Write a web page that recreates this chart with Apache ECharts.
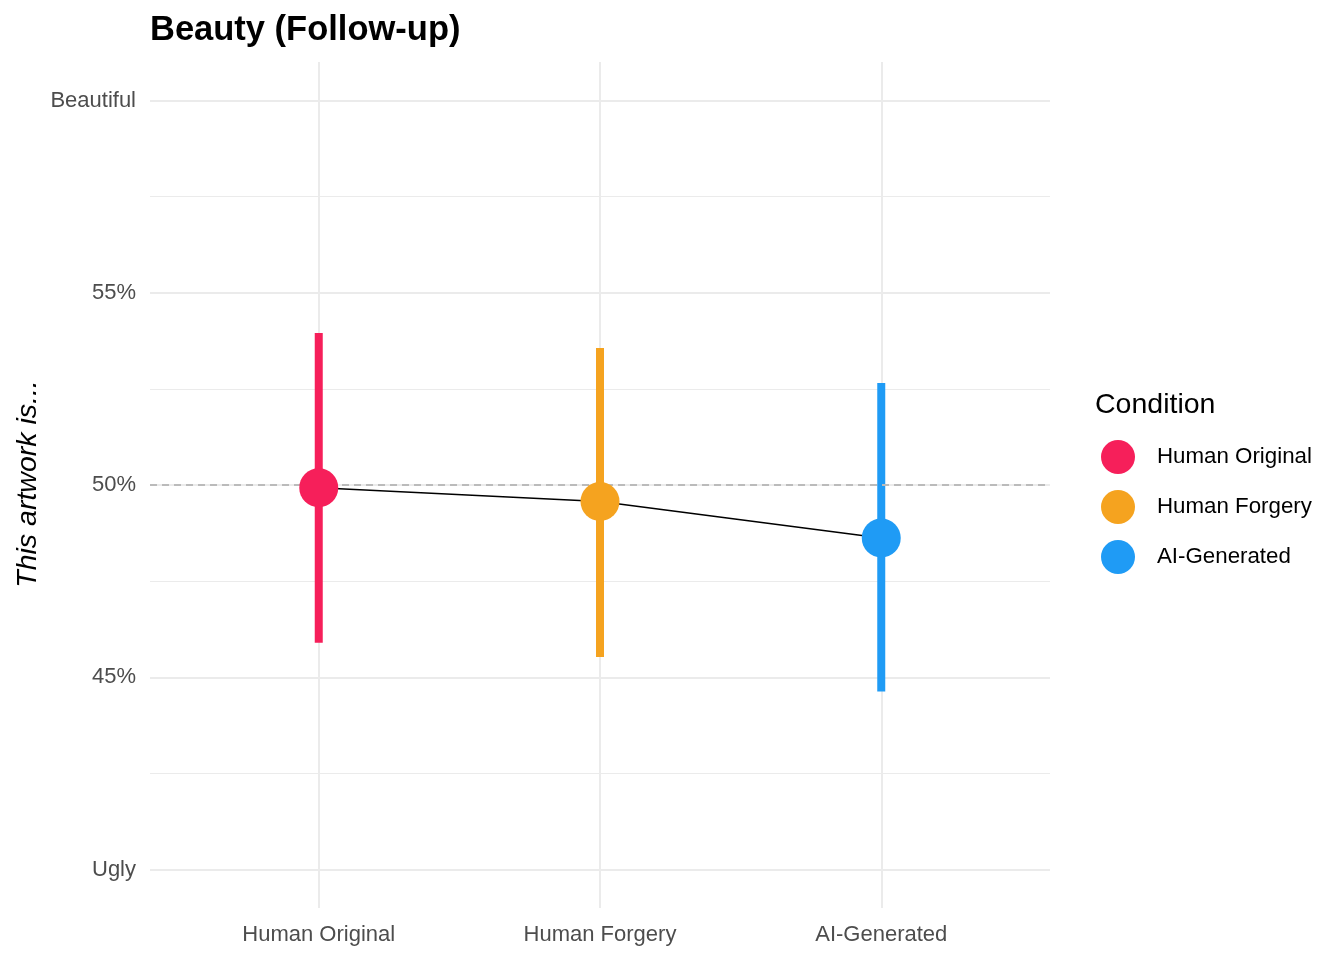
<!DOCTYPE html>
<html>
<head>
<meta charset="utf-8">
<script src="https://cdn.jsdelivr.net/npm/echarts@6/dist/echarts.min.js"></script>
<style>
  html, body { margin: 0; padding: 0; background: #fff; }
  #chart { width: 1344px; height: 960px; }
</style>
</head>
<body>
<div id="chart"></div>
<script>
// data
const conditions = ['Human Original', 'Human Forgery', 'AI-Generated']
const means = [49.93, 49.57, 48.62]
const lower = [45.9, 45.53, 44.63]
const upper = [53.95, 53.56, 52.65]
const colors = ['#F61F5A', '#F5A31F', '#1F9BF5']
const yTicks = [40, 45, 50, 55, 60]
const yMinorTicks = [42.5, 47.5, 52.5, 57.5]
const yTickLabels = { 40: 'Ugly', 60: 'Beautiful' }

const font = "'Liberation Sans', Arial, sans-serif"
const gridColor = '#EBEBEB'
const xPos = conditions.map((c, i) => i + 1)

const chart = echarts.init(document.getElementById('chart'))

chart.setOption({
  animation: false,
  backgroundColor: '#fff',
  textStyle: { fontFamily: font },
  title: {
    text: 'Beauty (Follow-up)',
    left: 145, top: 8,
    textStyle: { fontSize: 34.5, fontWeight: 'bold', color: '#000', fontFamily: font }
  },
  grid: { left: 150, right: 294, top: 62, bottom: 52 },
  xAxis: {
    type: 'value', min: 0.4, max: 3.6,
    axisLine: { show: false },
    axisTick: { show: false, customValues: xPos },
    axisLabel: {
      customValues: xPos, margin: 16, fontSize: 22, color: '#4D4D4D', fontFamily: font,
      formatter: v => conditions[Math.round(v) - 1] || ''
    },
    splitLine: { show: true, lineStyle: { color: gridColor, width: 2 } }
  },
  yAxis: [{
    type: 'value', min: 39, max: 61,
    axisLine: { show: false },
    axisTick: { show: false, customValues: yTicks },
    axisLabel: {
      customValues: yTicks, margin: 14, fontSize: 22, color: '#4D4D4D', fontFamily: font,
      padding: [4, 0, 0, 0],
      formatter: v => yTickLabels[v] || (v + '%')
    },
    splitLine: { show: true, lineStyle: { color: gridColor, width: 2 } }
  }, {
    type: 'value', min: 39, max: 61, position: 'left',
    axisLine: { show: false },
    axisTick: { show: false, customValues: yMinorTicks },
    axisLabel: { show: false, customValues: yMinorTicks },
    splitLine: { show: true, lineStyle: { color: gridColor, width: 1 } }
  }],
  legend: {
    orient: 'vertical',
    left: 1101, top: 440, padding: 0,
    icon: 'circle',
    itemWidth: 34, itemHeight: 34, itemGap: 16,
    textStyle: { fontSize: 22.3, color: '#000', fontFamily: font, padding: [0, 0, 0, 17] },
    data: conditions
  },
  graphic: [{
    type: 'text', x: 28, y: 484, rotation: Math.PI / 2,
    style: {
      text: 'This artwork is...', font: 'italic 28.5px ' + font,
      fill: '#000', align: 'center', verticalAlign: 'middle'
    }
  }, {
    type: 'text', left: 1095, top: 391,
    style: { text: 'Condition', font: '28.5px ' + font, fill: '#000' }
  }],
  series: [
    {
      // reference line at 50%
      type: 'line', data: [], silent: true,
      markLine: {
        symbol: 'none', silent: true, label: { show: false },
        lineStyle: { color: '#BBBBBB', type: [7, 5], width: 2 },
        data: [{ yAxis: 50 }]
      }
    },
    {
      type: 'custom',
      renderItem: (params, api) => {
        const x = api.value(0)
        const p1 = api.coord([x, api.value(1)])
        const p2 = api.coord([x, api.value(2)])
        return {
          type: 'line',
          shape: { x1: p1[0], y1: p1[1], x2: p2[0], y2: p2[1] },
          style: { stroke: colors[params.dataIndex], lineWidth: 8, lineCap: 'butt' }
        }
      },
      data: xPos.map((x, i) => [x, lower[i], upper[i]]),
      z: 3
    },
    {
      type: 'line',
      data: xPos.map((x, i) => [x, means[i]]),
      symbol: 'none',
      lineStyle: { color: '#000', width: 1.6 },
      z: 4
    },
    ...conditions.map((c, i) => ({
      name: c,
      type: 'scatter',
      data: [[xPos[i], means[i]]],
      symbolSize: 39,
      itemStyle: { color: colors[i], opacity: 1 },
      z: 5
    }))
  ]
})
</script>
</body>
</html>
